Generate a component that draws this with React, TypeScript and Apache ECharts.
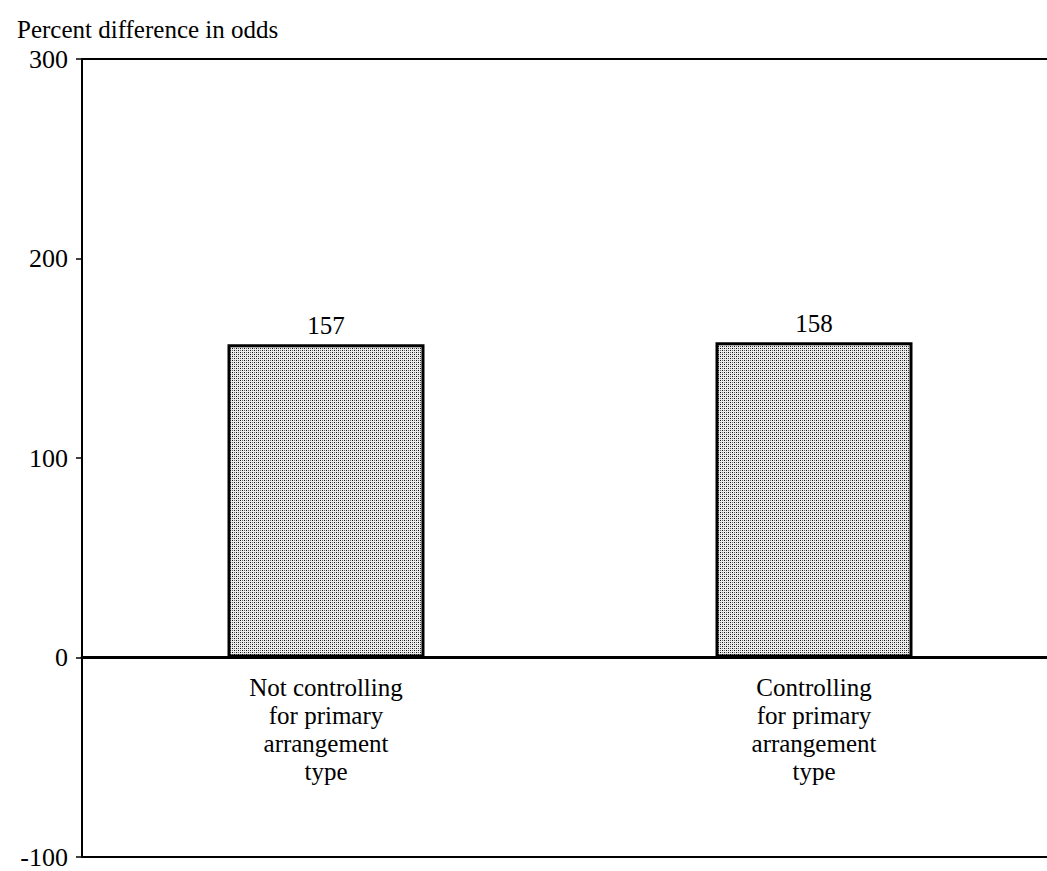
import React, { useEffect, useRef } from "react";
import * as echarts from "echarts";

const categories = [
  "Not controlling\nfor primary\narrangement\ntype",
  "Controlling\nfor primary\narrangement\ntype",
];
const values = [157, 158];
const yTicks = { min: -100, max: 300, interval: 100 };
const frameLines = [300, -100];

const SERIF = "'Liberation Serif', 'Times New Roman', serif";

// Small stipple tile used as the bar fill
function makeStipple(): string {
  const c = document.createElement("canvas");
  c.width = 4;
  c.height = 4;
  const ctx = c.getContext("2d")!;
  ctx.fillStyle = "#ececec";
  ctx.fillRect(0, 0, 4, 4);
  ctx.fillStyle = "#111";
  ctx.fillRect(0, 0, 1, 1);
  ctx.fillRect(2, 2, 1, 1);
  ctx.fillStyle = "#666";
  ctx.fillRect(2, 0, 1, 1);
  ctx.fillRect(0, 2, 1, 1);
  return c.toDataURL();
}

export default function App() {
  const ref = useRef<HTMLDivElement>(null);

  useEffect(() => {
    document.body.style.margin = "0";
    const chart = echarts.init(ref.current!, undefined, { renderer: "svg" });
    const stipple = makeStipple();

    chart.setOption({
      animation: false,
      backgroundColor: "#fff",
      title: {
        text: "Percent difference in odds",
        left: 12,
        top: 12,
        textStyle: { fontFamily: SERIF, fontSize: 25, fontWeight: "normal", color: "#000" },
      },
      grid: { left: 82, right: -11, top: 59, bottom: 14, outerBoundsMode: "none" },
      xAxis: {
        type: "category",
        data: categories,
        position: "bottom",
        axisLine: { onZero: false, lineStyle: { color: "#000", width: 3 } },
        axisTick: { show: false },
        axisLabel: {
          margin: 16,
          fontFamily: SERIF,
          fontSize: 25,
          lineHeight: 28,
          color: "#000",
          interval: 0,
        },
        splitLine: { show: false },
      },
      yAxis: {
        type: "value",
        min: yTicks.min,
        max: yTicks.max,
        interval: yTicks.interval,
        axisLine: { show: true, lineStyle: { color: "#000", width: 2 } },
        axisTick: { show: true, length: 6, lineStyle: { color: "#000", width: 1.5 } },
        axisLabel: { margin: 14, fontFamily: SERIF, fontSize: 26, color: "#000" },
        splitLine: { show: false },
      },
      series: [
        {
          type: "bar",
          data: values,
          barWidth: 197,
          itemStyle: {
            color: { image: stipple, repeat: "repeat" },
            borderColor: "#000",
            borderWidth: 3,
          },
          label: {
            show: true,
            position: "top",
            distance: 6,
            fontFamily: SERIF,
            fontSize: 25,
            color: "#000",
          },
          markLine: {
            silent: true,
            symbol: "none",
            label: { show: false },
            lineStyle: { color: "#000", width: 2, type: "solid" },
            data: frameLines.map((v) => ({ yAxis: v })),
          },
        },
      ],
    });

    // Lift the category axis (line and labels) up to the zero baseline
    const yZero = chart.convertToPixel({ yAxisIndex: 0 }, 0) as number;
    const yMin = chart.convertToPixel({ yAxisIndex: 0 }, yTicks.min) as number;
    chart.setOption({ xAxis: { offset: -(yMin - yZero) } });

    return () => chart.dispose();
  }, []);

  return <div ref={ref} style={{ width: 1047, height: 871 }} />;
}
